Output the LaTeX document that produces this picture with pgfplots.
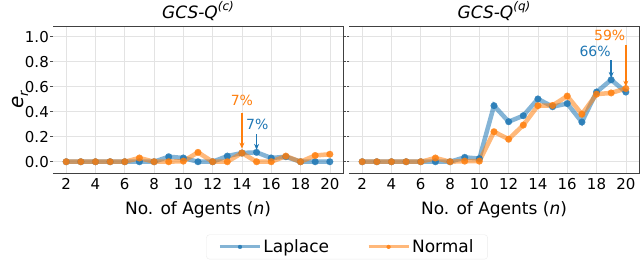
\documentclass[border=0pt]{standalone}
\usepackage{fontspec}
\setmainfont{DejaVu Sans}
\usepackage{pgfplots}
\pgfplotsset{compat=1.18}
\usetikzlibrary{arrows.meta}
\definecolor{mblue}{HTML}{1F77B4}
\definecolor{morange}{HTML}{FF7F0E}
\newcommand{\fs}[1]{\fontsize{#1}{#1}\selectfont}

\pgfplotstableread{
x lap nor
2 0 0
3 0 0
4 0 0
5 0 0
6 0 0
7 0 0.03
8 0 0
9 0.04 0
10 0.03 0.005
11 0 0.075
12 0 0
13 0.045 0
14 0.07 0.07
15 0.075 0
16 0.03 0
17 0.04 0.045
18 0 0
19 0 0.05
20 0 0.06
}\tblc

\pgfplotstableread{
x lap nor
2 0 0
3 0 0
4 0 0
5 0 0
6 0 0
7 0 0.03
8 0 0
9 0.035 0.005
10 0.025 0.005
11 0.448 0.24
12 0.32 0.18
13 0.368 0.293
14 0.502 0.448
15 0.44 0.45
16 0.465 0.525
17 0.317 0.38
18 0.557 0.54
19 0.655 0.55
20 0.557 0.585
}\tblq

\tikzset{spines/.style={black!75, line width=0.9pt}}

\pgfplotsset{
  mystyle/.style={
    scale only axis, width=290pt, height=147pt,
    anchor=south west,
    xmin=1.1, xmax=20.9, ymin=-0.09, ymax=1.085,
    xtick={2,4,...,20}, ytick={0,0.2,...,1.0},
    axis line style={draw=none},
    tick align=outside, major tick length=2.5pt,
    xtick style={draw=none},
    ytick style={black!70, line width=0.6pt},
    grid=major, grid style={gray!22, line width=0.6pt},
    /pgf/number format/assume math mode=true,
    yticklabel style={/pgf/number format/fixed, /pgf/number format/fixed zerofill, /pgf/number format/precision=1, font=\fs{15}, inner sep=1.5pt},
    xticklabel style={font=\fs{15}, inner sep=3pt},
    xlabel={No. of Agents (\textit{n})},
    xlabel style={font=\fs{17}, at={(axis description cs:0.5,-0.17)}, anchor=north},
    clip=false,
    legend image code/.code={\draw[mark repeat=2, mark phase=2, ##1, line width=3pt, mark size=2pt] plot coordinates {(0pt,0pt) (20pt,0pt) (40pt,0pt)};},
  },
  lapstyle/.style={color=mblue, line width=4.5pt, opacity=0.55, mark=*, mark size=3.4pt, mark options={solid, opacity=0.85, line width=0.1pt}},
  norstyle/.style={color=morange, line width=4.5pt, opacity=0.55, mark=*, mark size=3.4pt, mark options={solid, opacity=0.85, line width=0.1pt}},
}

\begin{document}
\begin{tikzpicture}
\path[use as bounding box] (0,0) rectangle (640pt,264pt);

\begin{axis}[mystyle, at={(53pt,91pt)},
  ylabel={\textit{e}\raisebox{-0.25em}{\fs{13}\textit{r}}},
  ylabel style={font=\fs{20}, at={(axis description cs:-0.114,0.5)}, anchor=center},
  legend columns=2,
  legend style={at={(axis description cs:1.014,-0.503)}, anchor=center, draw=black!8, rounded corners=3pt, font=\fs{17}, inner xsep=12pt, inner ysep=3pt,
    /tikz/every even column/.append style={column sep=36pt}},
  legend cell align=left,
]
\addplot[lapstyle] table[x=x, y=lap] {\tblc};
\addlegendentry{Laplace}
\addplot[norstyle] table[x=x, y=nor] {\tblc};
\addlegendentry{Normal}
\draw[spines] (rel axis cs:0,0) -- (rel axis cs:1,0) -- (rel axis cs:1,1) -- (rel axis cs:0,1);
\node[anchor=base, font=\fs{17}, yshift=7.7pt] at (rel axis cs:0.5,1) {\itshape GCS-Q\raisebox{0.45em}{\fs{12}(c)}};
\node[font=\fs{14}, text=morange] at (axis cs:14,0.49) {7\%};
\draw[morange, line width=1.4pt, -{Stealth[length=6pt,width=5pt]}] (axis cs:14,0.39) -- (axis cs:14,0.105);
\node[font=\fs{14}, text=mblue] at (axis cs:15.05,0.30) {7\%};
\draw[mblue, line width=1.4pt, -{Stealth[length=6pt,width=5pt]}] (axis cs:15,0.22) -- (axis cs:15,0.095);
\end{axis}

\begin{axis}[mystyle, at={(349pt,91pt)}, yticklabels={}]
\addplot[lapstyle] table[x=x, y=lap] {\tblq};
\addplot[norstyle] table[x=x, y=nor] {\tblq};
\draw[spines] (rel axis cs:0,0) -- (rel axis cs:1,0) -- (rel axis cs:1,1) -- (rel axis cs:0,1);
\node[anchor=base, font=\fs{17}, yshift=7.7pt] at (rel axis cs:0.5,1) {\itshape GCS-Q\raisebox{0.45em}{\fs{12}(q)}};
\node[font=\fs{14}, text=mblue] at (axis cs:17.9,0.88) {66\%};
\draw[mblue, line width=1.4pt, -{Stealth[length=6pt,width=5pt]}] (axis cs:19,0.81) -- (axis cs:19,0.67);
\node[font=\fs{14}, text=morange] at (axis cs:18.9,1.01) {59\%};
\draw[morange, line width=1.4pt, -{Stealth[length=6pt,width=5pt]}] (axis cs:20,0.93) -- (axis cs:20,0.6);
\end{axis}
\end{tikzpicture}
\end{document}
